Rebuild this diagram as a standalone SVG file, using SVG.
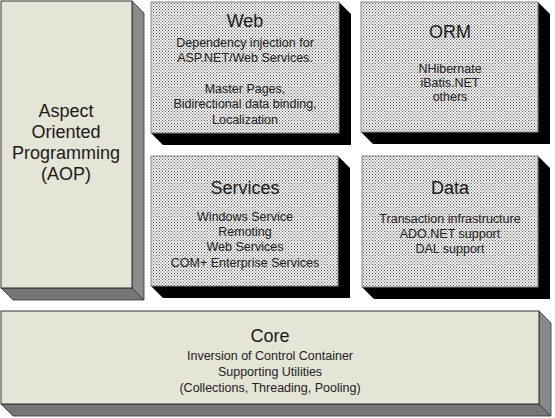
<svg xmlns="http://www.w3.org/2000/svg" width="555" height="418" viewBox="0 0 555 418">
<defs>
<pattern id="dots" width="3" height="3" patternUnits="userSpaceOnUse">
<rect width="3" height="3" fill="#f2f2f2"/>
<rect x="0" y="0" width="1" height="1" fill="#555"/>
<rect x="1.5" y="1.5" width="1" height="1" fill="#555"/>
</pattern>
</defs>
<style>
.beige{fill:#e4e4d7;stroke:#333;stroke-width:1}
.gside{fill:#8a8a8a;stroke:#333;stroke-width:0.8}
.gbot{fill:#767676;stroke:#333;stroke-width:0.8}
.dot{fill:url(#dots);stroke:#888;stroke-width:1}
.bl{fill:#000}
text{font-family:"Liberation Sans",Arial,sans-serif;text-anchor:middle;fill:#1a1a1a}
.t{font-size:18px}
.s{font-size:12.5px;fill:#222}
</style>
<rect width="555" height="418" fill="#fff"/>

<g id="aop">
<polygon class="gside" points="132,1 144,13 144,300 132,288"/>
<polygon class="gbot" points="1,288 132,288 144,300 13,300"/>
<rect class="beige" x="1" y="1" width="131" height="287"/>
<text class="t" x="66" y="117">Aspect</text>
<text class="t" x="66" y="138">Oriented</text>
<text class="t" x="66" y="159">Programming</text>
<text class="t" x="66" y="180">(AOP)</text>
</g>

<g id="web">
<polygon class="bl" points="339,2 351,14 351,145 163,145 151,133 339,133"/>
<rect class="dot" x="151" y="2" width="188" height="131"/>
<text class="t" x="245" y="27">Web</text>
<text class="s" x="245" y="47">Dependency injection for</text>
<text class="s" x="245" y="62">ASP.NET/Web Services.</text>
<text class="s" x="245" y="93">Master Pages,</text>
<text class="s" x="245" y="108">Bidirectional data binding,</text>
<text class="s" x="245" y="124">Localization</text>
</g>

<g id="orm">
<polygon class="bl" points="538,2 550,14 550,144 373,144 361,132 538,132"/>
<rect class="dot" x="361" y="2" width="177" height="130"/>
<text class="t" x="450" y="38">ORM</text>
<text class="s" x="450" y="73">NHibernate</text>
<text class="s" x="450" y="87">iBatis.NET</text>
<text class="s" x="450" y="101">others</text>
</g>

<g id="services">
<polygon class="bl" points="338,156 350,168 350,298 163,298 151,286 338,286"/>
<rect class="dot" x="151" y="156" width="187" height="130"/>
<text class="t" x="245" y="194">Services</text>
<text class="s" x="245" y="221">Windows Service</text>
<text class="s" x="245" y="236">Remoting</text>
<text class="s" x="245" y="251">Web Services</text>
<text class="s" x="245" y="267">COM+ Enterprise Services</text>
</g>

<g id="data">
<polygon class="bl" points="538,156 550,168 550,299 374,299 362,287 538,287"/>
<rect class="dot" x="362" y="156" width="176" height="131"/>
<text class="t" x="450" y="194">Data</text>
<text class="s" x="450" y="223">Transaction infrastructure</text>
<text class="s" x="450" y="238">ADO.NET support</text>
<text class="s" x="450" y="253">DAL support</text>
</g>

<g id="core">
<polygon class="gside" points="539,311 551,323 551,416 539,404"/>
<polygon class="gbot" points="1,404 539,404 551,416 13,416"/>
<rect class="beige" x="1" y="311" width="538" height="93"/>
<text class="t" x="270" y="342">Core</text>
<text class="s" x="270" y="360">Inversion of Control Container</text>
<text class="s" x="270" y="376">Supporting Utilities</text>
<text class="s" x="270" y="392">(Collections, Threading, Pooling)</text>
</g>

<g id="connectors"></g>
</svg>
